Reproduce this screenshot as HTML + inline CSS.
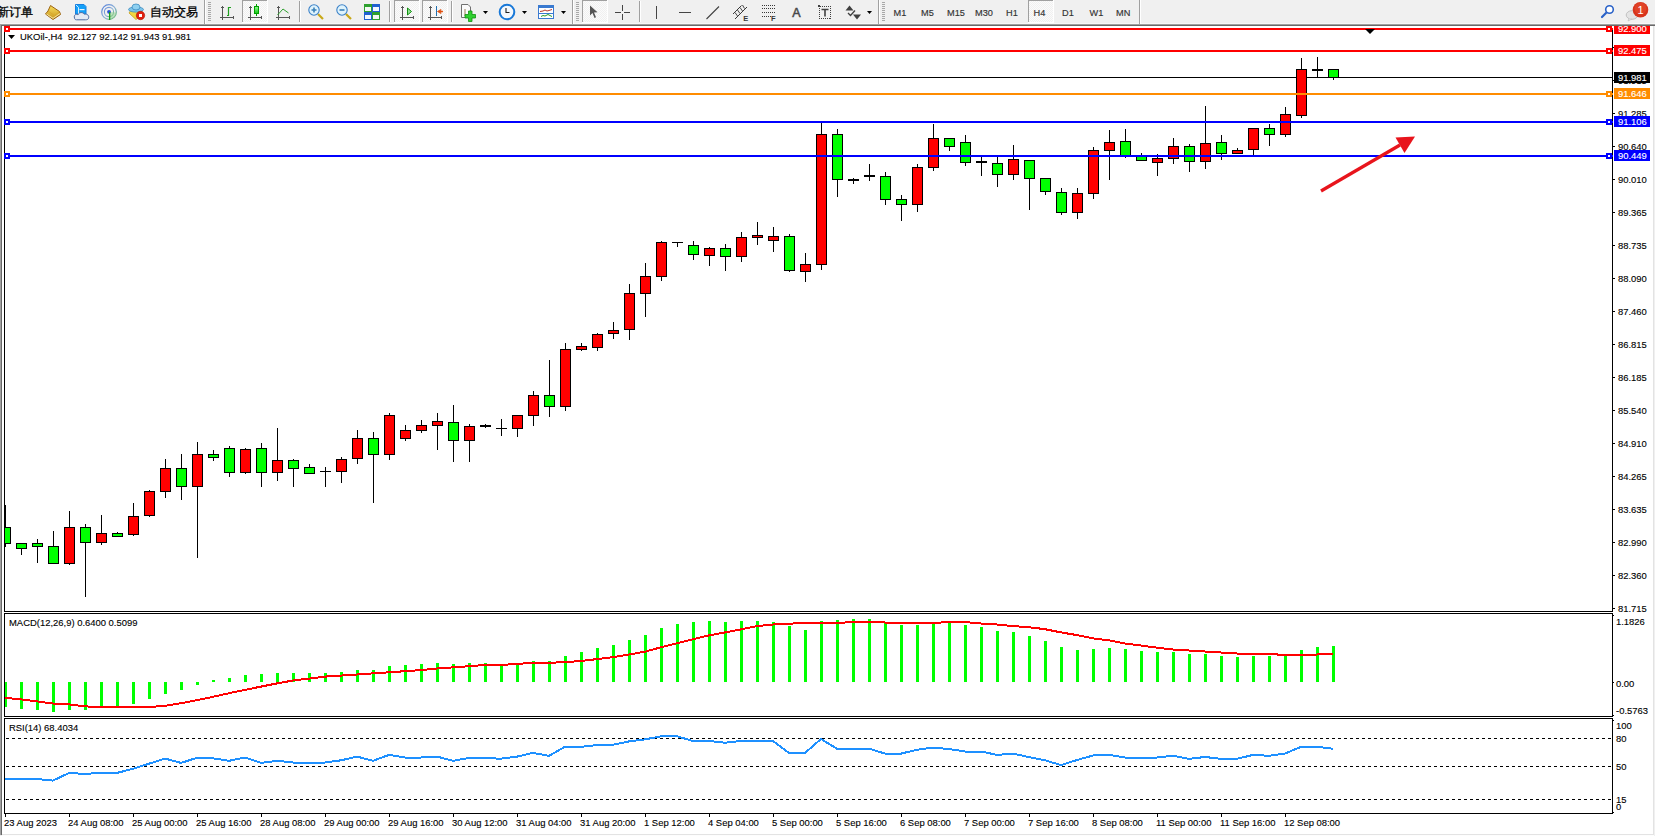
<!DOCTYPE html><html><head><meta charset="utf-8"><title>MT4</title><style>
html,body{margin:0;padding:0;width:1655px;height:836px;overflow:hidden;background:#f0f0f0}
svg{display:block}text{font-family:"Liberation Sans",sans-serif}
.r{shape-rendering:crispEdges}
</style></head><body>
<svg width="1655" height="836" viewBox="0 0 1655 836">
<rect x="0" y="0" width="1655" height="836" fill="#f0f0f0"/>
<g class="r">
<rect x="0" y="23" width="1655" height="1" fill="#f7f7f7"/>
<rect x="0" y="24" width="1655" height="1" fill="#a0a0a0"/>
<rect x="0" y="25" width="1655" height="1" fill="#696969"/>
<rect x="0" y="24" width="1" height="811" fill="#a0a0a0"/>
<rect x="1" y="25" width="1" height="810" fill="#696969"/>
<rect x="2" y="26" width="1652" height="810" fill="#fdfdfd"/>
<rect x="2" y="26" width="1651" height="808" fill="#ffffff"/>
<rect x="1653" y="26" width="1" height="809" fill="#e3e3e3"/>
<rect x="2" y="834" width="1652" height="1" fill="#e3e3e3"/>
</g>
<g id="toolbar">
<defs>
<pattern id="chk" width="2" height="2" patternUnits="userSpaceOnUse"><rect width="2" height="2" fill="#fbfbfb"/><rect width="1" height="1" fill="#f0f0f0"/><rect x="1" y="1" width="1" height="1" fill="#f0f0f0"/></pattern>
<linearGradient id="gold" x1="0" y1="0" x2="0" y2="1"><stop offset="0" stop-color="#f7dc5a"/><stop offset="1" stop-color="#c8961e"/></linearGradient>
<linearGradient id="blueg" x1="0" y1="0" x2="0" y2="1"><stop offset="0" stop-color="#5cc3ff"/><stop offset="1" stop-color="#1576d8"/></linearGradient>
<linearGradient id="greeng" x1="0" y1="0" x2="0" y2="1"><stop offset="0" stop-color="#8cf58c"/><stop offset="1" stop-color="#1bcc1b"/></linearGradient>
</defs>
<!-- text new order -->
<text x="-3" y="16" font-size="12" fill="#000" stroke="#000" stroke-width="0.3">新订单</text>
<!-- gold book -->
<path d="M50.5,5.5 L59.5,11.5 L60.5,14.5 L53,19.5 L45.5,14 L48,11 Z" fill="url(#gold)" stroke="#9c6410" stroke-width="1"/>
<path d="M46.5,14 L53,18.3 L60,13.5" fill="none" stroke="#f4e2a0" stroke-width="1"/>
<path d="M48,11 L54.5,15.5 L59.5,11.5" fill="none" stroke="#d8a428" stroke-width="0.8"/>
<!-- blue cube + cloud -->
<path d="M75.5,4.5 H84 L86,6.5 V14 H75.5 Z" fill="#14a0f8" stroke="#1880e0" stroke-width="1"/>
<path d="M76,5 L78.5,7.5 V14" fill="none" stroke="#e8f6ff" stroke-width="0.9"/>
<rect x="79.5" y="9" width="5" height="1.2" fill="#e8f6ff"/>
<path d="M74.5,18 C73.5,15 76,13.5 78,14.8 C79,12 83,11.8 84.5,14.3 C87,13.5 89.5,15.5 88.5,18.3 C88.2,19.5 87,19.8 85.5,19.8 H76.5 C75.2,19.8 74.6,19 74.5,18 Z" fill="#e4eaf4" stroke="#4e6aa0" stroke-width="1"/>
<!-- radar -->
<defs><linearGradient id="radg" x1="0" y1="0" x2="1" y2="1"><stop offset="0" stop-color="#3a6ad8"/><stop offset="0.55" stop-color="#7aa8d0"/><stop offset="1" stop-color="#2c9a3c"/></linearGradient></defs>
<circle cx="109" cy="12" r="7.3" fill="none" stroke="url(#radg)" stroke-width="1.2" opacity="0.85"/>
<circle cx="109" cy="12" r="4.6" fill="none" stroke="url(#radg)" stroke-width="1.1" opacity="0.8"/>
<path d="M109.5,12 V19.5 A7.5,7.5 0 0 0 116.5,12.5 Z" fill="#9ad49a" opacity="0.6"/>
<circle cx="109" cy="11.8" r="1.9" fill="#2a56d0"/>
<rect x="109" y="12" width="1.3" height="8" fill="#18a018"/>
<!-- auto trading -->
<path d="M129,13 L136,19.5 L143,14 L141,10 L131,10 Z" fill="#f2d640" stroke="#c8a020" stroke-width="0.8"/>
<ellipse cx="136" cy="9.5" rx="7.5" ry="2.6" fill="#7cc4ea" stroke="#3c8cc0" stroke-width="0.8"/>
<ellipse cx="136" cy="7" rx="4" ry="3" fill="#8ed0f0" stroke="#3c8cc0" stroke-width="0.8"/>
<circle cx="140.5" cy="15.5" r="4.2" fill="#e02010" stroke="#b01808" stroke-width="0.6"/>
<rect x="139" y="14" width="3" height="3" fill="#fff"/>
<!-- auto text -->
<text x="150" y="16" font-size="12" fill="#000" stroke="#000" stroke-width="0.3">自动交易</text>
<!-- separator -->
<g shape-rendering="crispEdges">
<rect x="204" y="0" width="1" height="24" fill="#a0a0a0"/><rect x="205" y="0" width="1" height="24" fill="#fff"/>
<rect x="208" y="2" width="3" height="1" fill="#a8a8a8"/><rect x="208" y="4" width="3" height="1" fill="#a8a8a8"/><rect x="208" y="6" width="3" height="1" fill="#a8a8a8"/><rect x="208" y="8" width="3" height="1" fill="#a8a8a8"/><rect x="208" y="10" width="3" height="1" fill="#a8a8a8"/><rect x="208" y="12" width="3" height="1" fill="#a8a8a8"/><rect x="208" y="14" width="3" height="1" fill="#a8a8a8"/><rect x="208" y="16" width="3" height="1" fill="#a8a8a8"/><rect x="208" y="18" width="3" height="1" fill="#a8a8a8"/><rect x="208" y="20" width="3" height="1" fill="#a8a8a8"/>
</g>
<!-- generic axis icon defs -->
<g id="ax1" shape-rendering="crispEdges" fill="#555">
<rect x="222" y="6" width="1" height="14"/><rect x="221" y="7" width="3" height="1"/>
<rect x="220" y="17" width="14" height="1"/><rect x="233" y="16" width="1" height="3"/>
</g>
<path d="M227,15.5 H228.5 V7.5 H231" fill="none" stroke="#20a020" stroke-width="1.2"/>
<!-- pressed candle button -->
<g shape-rendering="crispEdges">
<rect x="242" y="0" width="25" height="22" fill="url(#chk)"/>
<rect x="242" y="0" width="1" height="22" fill="#a0a0a0"/><rect x="242" y="0" width="25" height="1" fill="#a0a0a0"/>
<rect x="267" y="0" width="1" height="23" fill="#fff"/><rect x="242" y="22" width="26" height="1" fill="#fff"/>
<g fill="#555"><rect x="250" y="6" width="1" height="14"/><rect x="249" y="7" width="3" height="1"/><rect x="248" y="17" width="14" height="1"/><rect x="261" y="16" width="1" height="3"/></g>
<rect x="256" y="4" width="1" height="12" fill="#00a000"/>
<rect x="254" y="6" width="5" height="8" fill="#00a000"/><rect x="255" y="7" width="3" height="6" fill="url(#greeng)"/>
</g>
<!-- line chart icon -->
<g shape-rendering="crispEdges" fill="#555"><rect x="278" y="6" width="1" height="14"/><rect x="277" y="7" width="3" height="1"/><rect x="276" y="17" width="14" height="1"/><rect x="289" y="16" width="1" height="3"/></g>
<path d="M277.5,15 L283,9 L288.5,13" fill="none" stroke="#30a030" stroke-width="1"/>
<g shape-rendering="crispEdges"><rect x="299" y="1" width="1" height="21" fill="#a0a0a0"/><rect x="300" y="1" width="1" height="21" fill="#fff"/></g>
<!-- zoom in/out -->
<line x1="318" y1="14" x2="323" y2="19" stroke="#c8a818" stroke-width="2.2"/>
<circle cx="314" cy="10" r="5.2" fill="#dff3fc" stroke="#3a80c8" stroke-width="1.1"/>
<path d="M311.5,10 H316.5 M314,7.5 V12.5" stroke="#3a80b8" stroke-width="1.6"/>
<line x1="346" y1="14" x2="351" y2="19" stroke="#c8a818" stroke-width="2.2"/>
<circle cx="342" cy="10" r="5.2" fill="#dff3fc" stroke="#3a80c8" stroke-width="1.1"/>
<path d="M339.5,10 H344.5" stroke="#3a80b8" stroke-width="1.6"/>
<!-- tile windows -->
<g shape-rendering="crispEdges">
<rect x="364" y="4" width="8" height="8" fill="#2ea02e"/><rect x="372" y="4" width="8" height="8" fill="#2060d0"/>
<rect x="364" y="12" width="8" height="8" fill="#2060d0"/><rect x="372" y="12" width="8" height="8" fill="#2ea02e"/>
<rect x="365" y="7" width="6" height="4" fill="#f4f8f4"/><rect x="373" y="7" width="6" height="4" fill="#f4f8ff"/>
<rect x="365" y="15" width="6" height="4" fill="#f4f8ff"/><rect x="373" y="15" width="6" height="4" fill="#f4f8f4"/>
<rect x="389" y="1" width="1" height="21" fill="#a0a0a0"/><rect x="390" y="1" width="1" height="21" fill="#fff"/>
</g>
<!-- pressed auto-scroll -->
<g shape-rendering="crispEdges">
<rect x="394" y="0" width="25" height="22" fill="url(#chk)"/>
<rect x="394" y="0" width="1" height="22" fill="#a0a0a0"/><rect x="394" y="0" width="25" height="1" fill="#a0a0a0"/>
<rect x="419" y="0" width="1" height="23" fill="#fff"/><rect x="394" y="22" width="26" height="1" fill="#fff"/>
<g fill="#555"><rect x="402" y="6" width="1" height="14"/><rect x="401" y="7" width="3" height="1"/><rect x="400" y="17" width="14" height="1"/><rect x="413" y="16" width="1" height="3"/></g>
</g>
<path d="M407.5,8 L411.5,11.5 L407.5,15 Z" fill="#8fe08f" stroke="#109010" stroke-width="1"/>
<!-- pressed chart shift -->
<g shape-rendering="crispEdges">
<rect x="422" y="0" width="25" height="22" fill="url(#chk)"/>
<rect x="422" y="0" width="1" height="22" fill="#a0a0a0"/><rect x="422" y="0" width="25" height="1" fill="#a0a0a0"/>
<rect x="447" y="0" width="1" height="23" fill="#fff"/><rect x="422" y="22" width="26" height="1" fill="#fff"/>
<g fill="#555"><rect x="430" y="6" width="1" height="14"/><rect x="429" y="7" width="3" height="1"/><rect x="428" y="17" width="14" height="1"/><rect x="441" y="16" width="1" height="3"/></g>
<rect x="436" y="6" width="1" height="10" fill="#2070b0"/>
</g>
<path d="M437.5,11.5 L441,9.5 L440,11 H442.5 V12 H440 L441,13.5 Z" fill="#e05010" stroke="#e05010" stroke-width="0.8"/>
<g shape-rendering="crispEdges"><rect x="451" y="1" width="1" height="21" fill="#a0a0a0"/><rect x="452" y="1" width="1" height="21" fill="#fff"/></g>
<!-- new chart -->
<path d="M461.5,4.5 H468 L470.5,7 V17.5 H461.5 Z" fill="#fafafa" stroke="#707070" stroke-width="1"/>
<path d="M465,9 V16" stroke="#806030" stroke-width="0.8"/>
<path d="M468.5,11 H472 V14.5 H475.5 V18 H472 V21.5 H468.5 V18 H465 V14.5 H468.5 Z" fill="#30d030" stroke="#109010" stroke-width="0.8"/>
<path d="M483,11 H488 L485.5,14 Z" fill="#000"/>
<!-- clock -->
<circle cx="507" cy="12" r="7.3" fill="#f4f8fc" stroke="#1878d8" stroke-width="2"/>
<path d="M506,8 V12.5 H509.5" fill="none" stroke="#202020" stroke-width="1.1"/>
<path d="M522,11 H527 L524.5,14 Z" fill="#000"/>
<!-- indicators -->
<g shape-rendering="crispEdges">
<rect x="538" y="5" width="16" height="14" fill="#3a7ad0"/>
<rect x="539" y="8" width="14" height="5" fill="#fff"/><rect x="539" y="14" width="14" height="4" fill="#fff"/>
</g>
<path d="M540,11.5 L543,11 L545,10 L547,11 L549,10.5 L552,9.5" fill="none" stroke="#b02010" stroke-width="0.9"/>
<path d="M541,16.5 L543,15.5 L545,16 L548,14.5 L552,16.5" fill="none" stroke="#109010" stroke-width="0.9"/>
<path d="M561,11 H566 L563.5,14 Z" fill="#000"/>
<g shape-rendering="crispEdges">
<rect x="572" y="0" width="1" height="24" fill="#a0a0a0"/><rect x="573" y="0" width="1" height="24" fill="#fff"/>
<rect x="576" y="2" width="3" height="1" fill="#a8a8a8"/><rect x="576" y="4" width="3" height="1" fill="#a8a8a8"/><rect x="576" y="6" width="3" height="1" fill="#a8a8a8"/><rect x="576" y="8" width="3" height="1" fill="#a8a8a8"/><rect x="576" y="10" width="3" height="1" fill="#a8a8a8"/><rect x="576" y="12" width="3" height="1" fill="#a8a8a8"/><rect x="576" y="14" width="3" height="1" fill="#a8a8a8"/><rect x="576" y="16" width="3" height="1" fill="#a8a8a8"/><rect x="576" y="18" width="3" height="1" fill="#a8a8a8"/><rect x="576" y="20" width="3" height="1" fill="#a8a8a8"/>
<!-- pressed cursor -->
<rect x="582" y="0" width="25" height="22" fill="url(#chk)"/>
<rect x="582" y="0" width="1" height="22" fill="#a0a0a0"/><rect x="582" y="0" width="25" height="1" fill="#a0a0a0"/>
<rect x="607" y="0" width="1" height="23" fill="#fff"/><rect x="582" y="22" width="26" height="1" fill="#fff"/>
</g>
<path d="M590,5.5 V15.5 L592.5,13 L594.5,18 L596,17.3 L594,12.5 L597.5,12.2 Z" fill="#555"/>
<!-- crosshair -->
<g shape-rendering="crispEdges" fill="#454545">
<rect x="615" y="12" width="6" height="1"/><rect x="624" y="12" width="6" height="1"/>
<rect x="622" y="5" width="1" height="6" /><rect x="622" y="14" width="1" height="6"/>
<rect x="639" y="1" width="1" height="21" fill="#a0a0a0"/><rect x="640" y="1" width="1" height="21" fill="#fff"/>
<rect x="656" y="6" width="1" height="13"/>
<rect x="679" y="12" width="12" height="1"/>
</g>
<line x1="706.5" y1="19" x2="719" y2="6.5" stroke="#404040" stroke-width="1.1"/>
<!-- channel E -->
<path d="M733,14 L741.5,5.5 M735,19 L747,7" stroke="#383838" stroke-width="1" fill="none"/>
<path d="M735,12.5 L737.5,16 M737.5,10 L740,13.5 M740,7.5 L742.5,11 M742.5,5 L744.5,8.5" stroke="#383838" stroke-width="0.9" fill="none"/>
<text x="743.3" y="21" font-size="7.5" font-weight="bold" fill="#383838">E</text>
<!-- fibo F -->
<path d="M762,5.5 H775 M762,8.5 H775 M762,12.5 H775 M762,16.5 H772" stroke="#383838" stroke-width="1" stroke-dasharray="1,1" fill="none"/>
<text x="771" y="21" font-size="7.5" font-weight="bold" fill="#383838">F</text>
<text x="792.3" y="17" font-size="12.5" fill="#484848" stroke="#484848" stroke-width="0.5">A</text>
<!-- T label -->
<rect x="819.5" y="6.5" width="11" height="12" fill="none" stroke="#404040" stroke-width="1" stroke-dasharray="1,1" shape-rendering="crispEdges"/>
<rect x="818" y="5" width="2" height="2" fill="#404040"/>
<path d="M821.5,9.5 H828.5 M825,9.5 V16.5" stroke="#404040" stroke-width="1.6" fill="none"/>
<!-- arrows -->
<path d="M845.5,10.5 L849.5,5.5 L853.5,10.5 Z M853,14.5 L857,19.5 L861,14.5 Z" fill="#404040"/>
<path d="M848,13 L850.5,15.5 L855,10.5" fill="none" stroke="#404040" stroke-width="1.3"/>
<path d="M867,11 H872 L869.5,14 Z" fill="#000"/>
<g shape-rendering="crispEdges">
<rect x="878" y="0" width="1" height="24" fill="#a0a0a0"/><rect x="879" y="0" width="1" height="24" fill="#fff"/>
<rect x="882" y="2" width="3" height="1" fill="#a8a8a8"/><rect x="882" y="4" width="3" height="1" fill="#a8a8a8"/><rect x="882" y="6" width="3" height="1" fill="#a8a8a8"/><rect x="882" y="8" width="3" height="1" fill="#a8a8a8"/><rect x="882" y="10" width="3" height="1" fill="#a8a8a8"/><rect x="882" y="12" width="3" height="1" fill="#a8a8a8"/><rect x="882" y="14" width="3" height="1" fill="#a8a8a8"/><rect x="882" y="16" width="3" height="1" fill="#a8a8a8"/><rect x="882" y="18" width="3" height="1" fill="#a8a8a8"/><rect x="882" y="20" width="3" height="1" fill="#a8a8a8"/>
<!-- H4 pressed -->
<rect x="1028" y="0" width="25" height="22" fill="url(#chk)"/>
<rect x="1028" y="0" width="1" height="22" fill="#a0a0a0"/><rect x="1028" y="0" width="25" height="1" fill="#a0a0a0"/>
<rect x="1053" y="0" width="1" height="23" fill="#fff"/><rect x="1028" y="22" width="26" height="1" fill="#fff"/>
<rect x="1139" y="0" width="1" height="24" fill="#a0a0a0"/><rect x="1140" y="0" width="1" height="24" fill="#fff"/>
</g>
<g font-size="9.2" fill="#333" stroke="#333" stroke-width="0.15">
<text x="893.5" y="16">M1</text>
<text x="921" y="16">M5</text>
<text x="947" y="16">M15</text>
<text x="975" y="16">M30</text>
<text x="1006" y="16">H1</text>
<text x="1033.5" y="16">H4</text>
<text x="1062" y="16">D1</text>
<text x="1089.5" y="16">W1</text>
<text x="1116" y="16">MN</text>
</g>
<!-- search -->
<line x1="1602" y1="17" x2="1606" y2="13" stroke="#2a62c8" stroke-width="2.2" stroke-linecap="round"/>
<circle cx="1609.5" cy="9.5" r="3.8" fill="#fff" stroke="#2a62c8" stroke-width="1.6"/>
<!-- notification -->
<ellipse cx="1632" cy="15" rx="5.8" ry="4.3" fill="#e4e4e4" stroke="#b8b8b8" stroke-width="0.8"/>
<path d="M1629,18.5 L1628,21 L1632,19" fill="#e4e4e4" stroke="#b8b8b8" stroke-width="0.6"/>
<circle cx="1640.5" cy="9.8" r="7.8" fill="#d8341c"/>
<circle cx="1640.5" cy="8.5" r="6" fill="#e85030" opacity="0.5"/>
<text x="1640.5" y="14" font-size="11" fill="#fff" text-anchor="middle">1</text>
</g>

<defs><clipPath id="cm"><rect x="5" y="26" width="1607" height="585"/></clipPath><clipPath id="cmacd"><rect x="5" y="614" width="1607" height="102"/></clipPath><clipPath id="crsi"><rect x="5" y="719" width="1607" height="94"/></clipPath></defs>
<g class="r">
<rect x="4" y="26" width="1" height="586" fill="#000"/>
<rect x="4" y="611" width="1609" height="1" fill="#000"/>
<rect x="1612" y="30" width="1" height="582" fill="#000"/>
<rect x="4" y="613" width="1609" height="1" fill="#000"/>
<rect x="4" y="716" width="1609" height="1" fill="#000"/>
<rect x="4" y="613" width="1" height="104" fill="#000"/>
<rect x="1612" y="613" width="1" height="104" fill="#000"/>
<rect x="4" y="718" width="1609" height="1" fill="#000"/>
<rect x="4" y="813" width="1609" height="1" fill="#000"/>
<rect x="4" y="718" width="1" height="96" fill="#000"/>
<rect x="1612" y="718" width="1" height="96" fill="#000"/>
<rect x="5" y="814" width="1" height="3" fill="#000"/>
<rect x="69" y="814" width="1" height="3" fill="#000"/>
<rect x="133" y="814" width="1" height="3" fill="#000"/>
<rect x="197" y="814" width="1" height="3" fill="#000"/>
<rect x="261" y="814" width="1" height="3" fill="#000"/>
<rect x="325" y="814" width="1" height="3" fill="#000"/>
<rect x="389" y="814" width="1" height="3" fill="#000"/>
<rect x="453" y="814" width="1" height="3" fill="#000"/>
<rect x="517" y="814" width="1" height="3" fill="#000"/>
<rect x="581" y="814" width="1" height="3" fill="#000"/>
<rect x="645" y="814" width="1" height="3" fill="#000"/>
<rect x="709" y="814" width="1" height="3" fill="#000"/>
<rect x="773" y="814" width="1" height="3" fill="#000"/>
<rect x="837" y="814" width="1" height="3" fill="#000"/>
<rect x="901" y="814" width="1" height="3" fill="#000"/>
<rect x="965" y="814" width="1" height="3" fill="#000"/>
<rect x="1029" y="814" width="1" height="3" fill="#000"/>
<rect x="1093" y="814" width="1" height="3" fill="#000"/>
<rect x="1157" y="814" width="1" height="3" fill="#000"/>
<rect x="1221" y="814" width="1" height="3" fill="#000"/>
<rect x="1285" y="814" width="1" height="3" fill="#000"/>
<rect x="1613" y="608" width="2" height="1" fill="#000"/>
<rect x="1613" y="575" width="2" height="1" fill="#000"/>
<rect x="1613" y="542" width="2" height="1" fill="#000"/>
<rect x="1613" y="509" width="2" height="1" fill="#000"/>
<rect x="1613" y="476" width="2" height="1" fill="#000"/>
<rect x="1613" y="443" width="2" height="1" fill="#000"/>
<rect x="1613" y="410" width="2" height="1" fill="#000"/>
<rect x="1613" y="377" width="2" height="1" fill="#000"/>
<rect x="1613" y="344" width="2" height="1" fill="#000"/>
<rect x="1613" y="311" width="2" height="1" fill="#000"/>
<rect x="1613" y="278" width="2" height="1" fill="#000"/>
<rect x="1613" y="245" width="2" height="1" fill="#000"/>
<rect x="1613" y="212" width="2" height="1" fill="#000"/>
<rect x="1613" y="179" width="2" height="1" fill="#000"/>
<rect x="1613" y="146" width="2" height="1" fill="#000"/>
<rect x="1613" y="113" width="2" height="1" fill="#000"/>
<rect x="1613" y="80" width="2" height="1" fill="#000"/>
<rect x="1613" y="47" width="2" height="1" fill="#000"/>
<rect x="1613" y="615" width="1" height="1" fill="#000"/>
<rect x="1613" y="682" width="1" height="1" fill="#000"/>
<rect x="1613" y="715" width="1" height="1" fill="#000"/>
<rect x="1613" y="720" width="1" height="1" fill="#000"/>
<rect x="1613" y="812" width="1" height="1" fill="#000"/>
</g>
<text transform="translate(1618,611.6) scale(0.964,1)" font-size="9.8" fill="#000" stroke="#000" stroke-width="0.12" text-anchor="start">81.715</text>
<text transform="translate(1618,578.6) scale(0.964,1)" font-size="9.8" fill="#000" stroke="#000" stroke-width="0.12" text-anchor="start">82.360</text>
<text transform="translate(1618,545.6) scale(0.964,1)" font-size="9.8" fill="#000" stroke="#000" stroke-width="0.12" text-anchor="start">82.990</text>
<text transform="translate(1618,512.6) scale(0.964,1)" font-size="9.8" fill="#000" stroke="#000" stroke-width="0.12" text-anchor="start">83.635</text>
<text transform="translate(1618,479.6) scale(0.964,1)" font-size="9.8" fill="#000" stroke="#000" stroke-width="0.12" text-anchor="start">84.265</text>
<text transform="translate(1618,446.6) scale(0.964,1)" font-size="9.8" fill="#000" stroke="#000" stroke-width="0.12" text-anchor="start">84.910</text>
<text transform="translate(1618,413.6) scale(0.964,1)" font-size="9.8" fill="#000" stroke="#000" stroke-width="0.12" text-anchor="start">85.540</text>
<text transform="translate(1618,380.6) scale(0.964,1)" font-size="9.8" fill="#000" stroke="#000" stroke-width="0.12" text-anchor="start">86.185</text>
<text transform="translate(1618,347.6) scale(0.964,1)" font-size="9.8" fill="#000" stroke="#000" stroke-width="0.12" text-anchor="start">86.815</text>
<text transform="translate(1618,314.6) scale(0.964,1)" font-size="9.8" fill="#000" stroke="#000" stroke-width="0.12" text-anchor="start">87.460</text>
<text transform="translate(1618,281.6) scale(0.964,1)" font-size="9.8" fill="#000" stroke="#000" stroke-width="0.12" text-anchor="start">88.090</text>
<text transform="translate(1618,248.6) scale(0.964,1)" font-size="9.8" fill="#000" stroke="#000" stroke-width="0.12" text-anchor="start">88.735</text>
<text transform="translate(1618,215.6) scale(0.964,1)" font-size="9.8" fill="#000" stroke="#000" stroke-width="0.12" text-anchor="start">89.365</text>
<text transform="translate(1618,182.6) scale(0.964,1)" font-size="9.8" fill="#000" stroke="#000" stroke-width="0.12" text-anchor="start">90.010</text>
<text transform="translate(1618,149.6) scale(0.964,1)" font-size="9.8" fill="#000" stroke="#000" stroke-width="0.12" text-anchor="start">90.640</text>
<text transform="translate(1618,116.6) scale(0.964,1)" font-size="9.8" fill="#000" stroke="#000" stroke-width="0.12" text-anchor="start">91.285</text>
<text transform="translate(1618,83.6) scale(0.964,1)" font-size="9.8" fill="#000" stroke="#000" stroke-width="0.12" text-anchor="start">91.915</text>
<text transform="translate(1618,50.6) scale(0.964,1)" font-size="9.8" fill="#000" stroke="#000" stroke-width="0.12" text-anchor="start">92.560</text>
<g clip-path="url(#cm)" class="r">
<rect x="5" y="77" width="1607" height="1" fill="#000"/>
<rect x="5" y="505" width="1" height="42" fill="#000"/>
<rect x="0" y="527" width="11" height="17" fill="#000"/>
<rect x="1" y="528" width="9" height="15" fill="#00ff00"/>
<rect x="21" y="543" width="1" height="12" fill="#000"/>
<rect x="16" y="543" width="11" height="6" fill="#000"/>
<rect x="17" y="544" width="9" height="4" fill="#00ff00"/>
<rect x="37" y="539" width="1" height="24" fill="#000"/>
<rect x="32" y="543" width="11" height="4" fill="#000"/>
<rect x="33" y="544" width="9" height="2" fill="#00ff00"/>
<rect x="53" y="531" width="1" height="33" fill="#000"/>
<rect x="48" y="546" width="11" height="18" fill="#000"/>
<rect x="49" y="547" width="9" height="16" fill="#00ff00"/>
<rect x="69" y="511" width="1" height="54" fill="#000"/>
<rect x="64" y="527" width="11" height="37" fill="#000"/>
<rect x="65" y="528" width="9" height="35" fill="#ff0000"/>
<rect x="85" y="524" width="1" height="73" fill="#000"/>
<rect x="80" y="527" width="11" height="16" fill="#000"/>
<rect x="81" y="528" width="9" height="14" fill="#00ff00"/>
<rect x="101" y="515" width="1" height="30" fill="#000"/>
<rect x="96" y="533" width="11" height="10" fill="#000"/>
<rect x="97" y="534" width="9" height="8" fill="#ff0000"/>
<rect x="117" y="532" width="1" height="5" fill="#000"/>
<rect x="112" y="533" width="11" height="4" fill="#000"/>
<rect x="113" y="534" width="9" height="2" fill="#00ff00"/>
<rect x="133" y="503" width="1" height="33" fill="#000"/>
<rect x="128" y="516" width="11" height="19" fill="#000"/>
<rect x="129" y="517" width="9" height="17" fill="#ff0000"/>
<rect x="149" y="490" width="1" height="27" fill="#000"/>
<rect x="144" y="491" width="11" height="25" fill="#000"/>
<rect x="145" y="492" width="9" height="23" fill="#ff0000"/>
<rect x="165" y="459" width="1" height="39" fill="#000"/>
<rect x="160" y="468" width="11" height="24" fill="#000"/>
<rect x="161" y="469" width="9" height="22" fill="#ff0000"/>
<rect x="181" y="454" width="1" height="46" fill="#000"/>
<rect x="176" y="468" width="11" height="19" fill="#000"/>
<rect x="177" y="469" width="9" height="17" fill="#00ff00"/>
<rect x="197" y="442" width="1" height="116" fill="#000"/>
<rect x="192" y="454" width="11" height="33" fill="#000"/>
<rect x="193" y="455" width="9" height="31" fill="#ff0000"/>
<rect x="213" y="450" width="1" height="11" fill="#000"/>
<rect x="208" y="454" width="11" height="4" fill="#000"/>
<rect x="209" y="455" width="9" height="2" fill="#00ff00"/>
<rect x="229" y="446" width="1" height="31" fill="#000"/>
<rect x="224" y="448" width="11" height="25" fill="#000"/>
<rect x="225" y="449" width="9" height="23" fill="#00ff00"/>
<rect x="245" y="448" width="1" height="26" fill="#000"/>
<rect x="240" y="449" width="11" height="24" fill="#000"/>
<rect x="241" y="450" width="9" height="22" fill="#ff0000"/>
<rect x="261" y="443" width="1" height="44" fill="#000"/>
<rect x="256" y="448" width="11" height="25" fill="#000"/>
<rect x="257" y="449" width="9" height="23" fill="#00ff00"/>
<rect x="277" y="428" width="1" height="53" fill="#000"/>
<rect x="272" y="460" width="11" height="13" fill="#000"/>
<rect x="273" y="461" width="9" height="11" fill="#ff0000"/>
<rect x="293" y="459" width="1" height="28" fill="#000"/>
<rect x="288" y="460" width="11" height="9" fill="#000"/>
<rect x="289" y="461" width="9" height="7" fill="#00ff00"/>
<rect x="309" y="464" width="1" height="10" fill="#000"/>
<rect x="304" y="467" width="11" height="7" fill="#000"/>
<rect x="305" y="468" width="9" height="5" fill="#00ff00"/>
<rect x="325" y="467" width="1" height="20" fill="#000"/>
<rect x="320" y="471" width="11" height="1" fill="#000"/>
<rect x="341" y="457" width="1" height="26" fill="#000"/>
<rect x="336" y="459" width="11" height="13" fill="#000"/>
<rect x="337" y="460" width="9" height="11" fill="#ff0000"/>
<rect x="357" y="430" width="1" height="34" fill="#000"/>
<rect x="352" y="438" width="11" height="21" fill="#000"/>
<rect x="353" y="439" width="9" height="19" fill="#ff0000"/>
<rect x="373" y="432" width="1" height="71" fill="#000"/>
<rect x="368" y="438" width="11" height="17" fill="#000"/>
<rect x="369" y="439" width="9" height="15" fill="#00ff00"/>
<rect x="389" y="413" width="1" height="47" fill="#000"/>
<rect x="384" y="415" width="11" height="40" fill="#000"/>
<rect x="385" y="416" width="9" height="38" fill="#ff0000"/>
<rect x="405" y="425" width="1" height="16" fill="#000"/>
<rect x="400" y="430" width="11" height="9" fill="#000"/>
<rect x="401" y="431" width="9" height="7" fill="#ff0000"/>
<rect x="421" y="420" width="1" height="13" fill="#000"/>
<rect x="416" y="425" width="11" height="6" fill="#000"/>
<rect x="417" y="426" width="9" height="4" fill="#ff0000"/>
<rect x="437" y="413" width="1" height="37" fill="#000"/>
<rect x="432" y="421" width="11" height="5" fill="#000"/>
<rect x="433" y="422" width="9" height="3" fill="#ff0000"/>
<rect x="453" y="405" width="1" height="57" fill="#000"/>
<rect x="448" y="422" width="11" height="19" fill="#000"/>
<rect x="449" y="423" width="9" height="17" fill="#00ff00"/>
<rect x="469" y="424" width="1" height="38" fill="#000"/>
<rect x="464" y="426" width="11" height="15" fill="#000"/>
<rect x="465" y="427" width="9" height="13" fill="#ff0000"/>
<rect x="485" y="424" width="1" height="4" fill="#000"/>
<rect x="480" y="425" width="11" height="2" fill="#000"/>
<rect x="501" y="419" width="1" height="17" fill="#000"/>
<rect x="496" y="428" width="11" height="1" fill="#000"/>
<rect x="517" y="415" width="1" height="22" fill="#000"/>
<rect x="512" y="415" width="11" height="14" fill="#000"/>
<rect x="513" y="416" width="9" height="12" fill="#ff0000"/>
<rect x="533" y="391" width="1" height="35" fill="#000"/>
<rect x="528" y="395" width="11" height="21" fill="#000"/>
<rect x="529" y="396" width="9" height="19" fill="#ff0000"/>
<rect x="549" y="360" width="1" height="57" fill="#000"/>
<rect x="544" y="395" width="11" height="12" fill="#000"/>
<rect x="545" y="396" width="9" height="10" fill="#00ff00"/>
<rect x="565" y="343" width="1" height="68" fill="#000"/>
<rect x="560" y="349" width="11" height="58" fill="#000"/>
<rect x="561" y="350" width="9" height="56" fill="#ff0000"/>
<rect x="581" y="343" width="1" height="8" fill="#000"/>
<rect x="576" y="346" width="11" height="4" fill="#000"/>
<rect x="577" y="347" width="9" height="2" fill="#ff0000"/>
<rect x="597" y="333" width="1" height="18" fill="#000"/>
<rect x="592" y="334" width="11" height="14" fill="#000"/>
<rect x="593" y="335" width="9" height="12" fill="#ff0000"/>
<rect x="613" y="322" width="1" height="17" fill="#000"/>
<rect x="608" y="330" width="11" height="4" fill="#000"/>
<rect x="609" y="331" width="9" height="2" fill="#ff0000"/>
<rect x="629" y="284" width="1" height="56" fill="#000"/>
<rect x="624" y="293" width="11" height="37" fill="#000"/>
<rect x="625" y="294" width="9" height="35" fill="#ff0000"/>
<rect x="645" y="263" width="1" height="54" fill="#000"/>
<rect x="640" y="276" width="11" height="18" fill="#000"/>
<rect x="641" y="277" width="9" height="16" fill="#ff0000"/>
<rect x="661" y="241" width="1" height="40" fill="#000"/>
<rect x="656" y="242" width="11" height="35" fill="#000"/>
<rect x="657" y="243" width="9" height="33" fill="#ff0000"/>
<rect x="677" y="242" width="1" height="5" fill="#000"/>
<rect x="672" y="242" width="11" height="1" fill="#000"/>
<rect x="693" y="241" width="1" height="19" fill="#000"/>
<rect x="688" y="245" width="11" height="10" fill="#000"/>
<rect x="689" y="246" width="9" height="8" fill="#00ff00"/>
<rect x="709" y="247" width="1" height="19" fill="#000"/>
<rect x="704" y="248" width="11" height="8" fill="#000"/>
<rect x="705" y="249" width="9" height="6" fill="#ff0000"/>
<rect x="725" y="244" width="1" height="27" fill="#000"/>
<rect x="720" y="248" width="11" height="9" fill="#000"/>
<rect x="721" y="249" width="9" height="7" fill="#00ff00"/>
<rect x="741" y="232" width="1" height="30" fill="#000"/>
<rect x="736" y="237" width="11" height="20" fill="#000"/>
<rect x="737" y="238" width="9" height="18" fill="#ff0000"/>
<rect x="757" y="222" width="1" height="23" fill="#000"/>
<rect x="752" y="235" width="11" height="3" fill="#000"/>
<rect x="753" y="236" width="9" height="1" fill="#ff0000"/>
<rect x="773" y="227" width="1" height="25" fill="#000"/>
<rect x="768" y="236" width="11" height="5" fill="#000"/>
<rect x="769" y="237" width="9" height="3" fill="#ff0000"/>
<rect x="789" y="234" width="1" height="38" fill="#000"/>
<rect x="784" y="236" width="11" height="35" fill="#000"/>
<rect x="785" y="237" width="9" height="33" fill="#00ff00"/>
<rect x="805" y="253" width="1" height="29" fill="#000"/>
<rect x="800" y="264" width="11" height="8" fill="#000"/>
<rect x="801" y="265" width="9" height="6" fill="#ff0000"/>
<rect x="821" y="123" width="1" height="147" fill="#000"/>
<rect x="816" y="134" width="11" height="131" fill="#000"/>
<rect x="817" y="135" width="9" height="129" fill="#ff0000"/>
<rect x="837" y="129" width="1" height="68" fill="#000"/>
<rect x="832" y="134" width="11" height="46" fill="#000"/>
<rect x="833" y="135" width="9" height="44" fill="#00ff00"/>
<rect x="853" y="178" width="1" height="6" fill="#000"/>
<rect x="848" y="179" width="11" height="2" fill="#000"/>
<rect x="869" y="164" width="1" height="17" fill="#000"/>
<rect x="864" y="175" width="11" height="2" fill="#000"/>
<rect x="885" y="172" width="1" height="33" fill="#000"/>
<rect x="880" y="176" width="11" height="24" fill="#000"/>
<rect x="881" y="177" width="9" height="22" fill="#00ff00"/>
<rect x="901" y="195" width="1" height="26" fill="#000"/>
<rect x="896" y="199" width="11" height="6" fill="#000"/>
<rect x="897" y="200" width="9" height="4" fill="#00ff00"/>
<rect x="917" y="164" width="1" height="48" fill="#000"/>
<rect x="912" y="167" width="11" height="38" fill="#000"/>
<rect x="913" y="168" width="9" height="36" fill="#ff0000"/>
<rect x="933" y="124" width="1" height="47" fill="#000"/>
<rect x="928" y="138" width="11" height="30" fill="#000"/>
<rect x="929" y="139" width="9" height="28" fill="#ff0000"/>
<rect x="949" y="138" width="1" height="13" fill="#000"/>
<rect x="944" y="138" width="11" height="9" fill="#000"/>
<rect x="945" y="139" width="9" height="7" fill="#00ff00"/>
<rect x="965" y="135" width="1" height="31" fill="#000"/>
<rect x="960" y="142" width="11" height="21" fill="#000"/>
<rect x="961" y="143" width="9" height="19" fill="#00ff00"/>
<rect x="981" y="157" width="1" height="19" fill="#000"/>
<rect x="976" y="161" width="11" height="2" fill="#000"/>
<rect x="997" y="157" width="1" height="30" fill="#000"/>
<rect x="992" y="163" width="11" height="12" fill="#000"/>
<rect x="993" y="164" width="9" height="10" fill="#00ff00"/>
<rect x="1013" y="145" width="1" height="35" fill="#000"/>
<rect x="1008" y="159" width="11" height="16" fill="#000"/>
<rect x="1009" y="160" width="9" height="14" fill="#ff0000"/>
<rect x="1029" y="160" width="1" height="50" fill="#000"/>
<rect x="1024" y="160" width="11" height="19" fill="#000"/>
<rect x="1025" y="161" width="9" height="17" fill="#00ff00"/>
<rect x="1045" y="178" width="1" height="17" fill="#000"/>
<rect x="1040" y="178" width="11" height="14" fill="#000"/>
<rect x="1041" y="179" width="9" height="12" fill="#00ff00"/>
<rect x="1061" y="188" width="1" height="27" fill="#000"/>
<rect x="1056" y="192" width="11" height="21" fill="#000"/>
<rect x="1057" y="193" width="9" height="19" fill="#00ff00"/>
<rect x="1077" y="188" width="1" height="31" fill="#000"/>
<rect x="1072" y="193" width="11" height="20" fill="#000"/>
<rect x="1073" y="194" width="9" height="18" fill="#ff0000"/>
<rect x="1093" y="147" width="1" height="52" fill="#000"/>
<rect x="1088" y="150" width="11" height="44" fill="#000"/>
<rect x="1089" y="151" width="9" height="42" fill="#ff0000"/>
<rect x="1109" y="130" width="1" height="50" fill="#000"/>
<rect x="1104" y="142" width="11" height="9" fill="#000"/>
<rect x="1105" y="143" width="9" height="7" fill="#ff0000"/>
<rect x="1125" y="129" width="1" height="29" fill="#000"/>
<rect x="1120" y="141" width="11" height="16" fill="#000"/>
<rect x="1121" y="142" width="9" height="14" fill="#00ff00"/>
<rect x="1141" y="153" width="1" height="8" fill="#000"/>
<rect x="1136" y="156" width="11" height="5" fill="#000"/>
<rect x="1137" y="157" width="9" height="3" fill="#00ff00"/>
<rect x="1157" y="154" width="1" height="22" fill="#000"/>
<rect x="1152" y="158" width="11" height="5" fill="#000"/>
<rect x="1153" y="159" width="9" height="3" fill="#ff0000"/>
<rect x="1173" y="138" width="1" height="26" fill="#000"/>
<rect x="1168" y="146" width="11" height="13" fill="#000"/>
<rect x="1169" y="147" width="9" height="11" fill="#ff0000"/>
<rect x="1189" y="144" width="1" height="28" fill="#000"/>
<rect x="1184" y="146" width="11" height="16" fill="#000"/>
<rect x="1185" y="147" width="9" height="14" fill="#00ff00"/>
<rect x="1205" y="106" width="1" height="63" fill="#000"/>
<rect x="1200" y="143" width="11" height="19" fill="#000"/>
<rect x="1201" y="144" width="9" height="17" fill="#ff0000"/>
<rect x="1221" y="135" width="1" height="25" fill="#000"/>
<rect x="1216" y="142" width="11" height="12" fill="#000"/>
<rect x="1217" y="143" width="9" height="10" fill="#00ff00"/>
<rect x="1237" y="148" width="1" height="6" fill="#000"/>
<rect x="1232" y="150" width="11" height="4" fill="#000"/>
<rect x="1233" y="151" width="9" height="2" fill="#ff0000"/>
<rect x="1253" y="128" width="1" height="27" fill="#000"/>
<rect x="1248" y="128" width="11" height="22" fill="#000"/>
<rect x="1249" y="129" width="9" height="20" fill="#ff0000"/>
<rect x="1269" y="124" width="1" height="22" fill="#000"/>
<rect x="1264" y="128" width="11" height="7" fill="#000"/>
<rect x="1265" y="129" width="9" height="5" fill="#00ff00"/>
<rect x="1285" y="107" width="1" height="30" fill="#000"/>
<rect x="1280" y="114" width="11" height="21" fill="#000"/>
<rect x="1281" y="115" width="9" height="19" fill="#ff0000"/>
<rect x="1301" y="58" width="1" height="60" fill="#000"/>
<rect x="1296" y="69" width="11" height="47" fill="#000"/>
<rect x="1297" y="70" width="9" height="45" fill="#ff0000"/>
<rect x="1317" y="57" width="1" height="20" fill="#000"/>
<rect x="1312" y="69" width="11" height="2" fill="#000"/>
<rect x="1333" y="69" width="1" height="11" fill="#000"/>
<rect x="1328" y="69" width="11" height="9" fill="#000"/>
<rect x="1329" y="70" width="9" height="7" fill="#00ff00"/>
</g>
<g class="r">
<rect x="4" y="28" width="1609" height="2" fill="#ff0000"/>
<rect x="4" y="26" width="6" height="6" fill="#ff0000"/>
<rect x="6" y="28" width="2" height="2" fill="#fff"/>
<rect x="1606" y="26" width="6" height="6" fill="#ff0000"/>
<rect x="1608" y="28" width="2" height="2" fill="#fff"/>
<rect x="4" y="50" width="1609" height="2" fill="#ff0000"/>
<rect x="4" y="48" width="6" height="6" fill="#ff0000"/>
<rect x="6" y="50" width="2" height="2" fill="#fff"/>
<rect x="1606" y="48" width="6" height="6" fill="#ff0000"/>
<rect x="1608" y="50" width="2" height="2" fill="#fff"/>
<rect x="4" y="93" width="1609" height="2" fill="#ff8c00"/>
<rect x="4" y="91" width="6" height="6" fill="#ff8c00"/>
<rect x="6" y="93" width="2" height="2" fill="#fff"/>
<rect x="1606" y="91" width="6" height="6" fill="#ff8c00"/>
<rect x="1608" y="93" width="2" height="2" fill="#fff"/>
<rect x="4" y="121" width="1609" height="2" fill="#0000ff"/>
<rect x="4" y="119" width="6" height="6" fill="#0000ff"/>
<rect x="6" y="121" width="2" height="2" fill="#fff"/>
<rect x="1606" y="119" width="6" height="6" fill="#0000ff"/>
<rect x="1608" y="121" width="2" height="2" fill="#fff"/>
<rect x="4" y="155" width="1609" height="2" fill="#0000ff"/>
<rect x="4" y="153" width="6" height="6" fill="#0000ff"/>
<rect x="6" y="155" width="2" height="2" fill="#fff"/>
<rect x="1606" y="153" width="6" height="6" fill="#0000ff"/>
<rect x="1608" y="155" width="2" height="2" fill="#fff"/>
</g>
<g class="r">
<rect x="1614" y="26" width="36" height="8" fill="#ff0000"/>
<rect x="1614" y="45" width="36" height="11" fill="#ff0000"/>
<rect x="1614" y="88" width="36" height="11" fill="#ff8c00"/>
<rect x="1614" y="116" width="36" height="11" fill="#0000ff"/>
<rect x="1614" y="150" width="36" height="11" fill="#0000ff"/>
<rect x="1614" y="72" width="36" height="11" fill="#000"/>
</g>
<text transform="translate(1618,32) scale(0.964,1)" font-size="9.8" fill="#fff" stroke="#fff" stroke-width="0.12" text-anchor="start">92.900</text>
<text transform="translate(1618,54) scale(0.964,1)" font-size="9.8" fill="#fff" stroke="#fff" stroke-width="0.12" text-anchor="start">92.475</text>
<text transform="translate(1618,97) scale(0.964,1)" font-size="9.8" fill="#fff" stroke="#fff" stroke-width="0.12" text-anchor="start">91.646</text>
<text transform="translate(1618,125) scale(0.964,1)" font-size="9.8" fill="#fff" stroke="#fff" stroke-width="0.12" text-anchor="start">91.106</text>
<text transform="translate(1618,159) scale(0.964,1)" font-size="9.8" fill="#fff" stroke="#fff" stroke-width="0.12" text-anchor="start">90.449</text>
<text transform="translate(1618,81) scale(0.964,1)" font-size="9.8" fill="#fff" stroke="#fff" stroke-width="0.12" text-anchor="start">91.981</text>
<polygon points="1365,29 1375,29 1370,34" fill="#000"/>
<line x1="1321" y1="191" x2="1400" y2="145" stroke="#e8141c" stroke-width="3.2"/>
<polygon points="1395.5,137.5 1415,136.5 1404.5,153" fill="#e8141c"/>
<polygon points="8,35 15,35 11.5,39" fill="#000"/>
<text transform="translate(20,40) scale(0.964,1)" font-size="9.8" fill="#000" stroke="#000" stroke-width="0.12" text-anchor="start">UKOil-,H4&#160;&#160;92.127 92.142 91.943 91.981</text>
<g clip-path="url(#cmacd)" class="r">
<rect x="4" y="682" width="3" height="25" fill="#00ff00"/>
<rect x="20" y="682" width="3" height="27" fill="#00ff00"/>
<rect x="36" y="682" width="3" height="28" fill="#00ff00"/>
<rect x="52" y="682" width="3" height="30" fill="#00ff00"/>
<rect x="68" y="682" width="3" height="28" fill="#00ff00"/>
<rect x="84" y="682" width="3" height="28" fill="#00ff00"/>
<rect x="100" y="682" width="3" height="24" fill="#00ff00"/>
<rect x="116" y="682" width="3" height="24" fill="#00ff00"/>
<rect x="132" y="682" width="3" height="22" fill="#00ff00"/>
<rect x="148" y="682" width="3" height="17" fill="#00ff00"/>
<rect x="164" y="682" width="3" height="12" fill="#00ff00"/>
<rect x="180" y="682" width="3" height="8" fill="#00ff00"/>
<rect x="196" y="682" width="3" height="3" fill="#00ff00"/>
<rect x="212" y="680" width="3" height="2" fill="#00ff00"/>
<rect x="228" y="678" width="3" height="4" fill="#00ff00"/>
<rect x="244" y="675" width="3" height="7" fill="#00ff00"/>
<rect x="260" y="674" width="3" height="8" fill="#00ff00"/>
<rect x="276" y="673" width="3" height="9" fill="#00ff00"/>
<rect x="292" y="673" width="3" height="9" fill="#00ff00"/>
<rect x="308" y="673" width="3" height="9" fill="#00ff00"/>
<rect x="324" y="673" width="3" height="9" fill="#00ff00"/>
<rect x="340" y="672" width="3" height="10" fill="#00ff00"/>
<rect x="356" y="670" width="3" height="12" fill="#00ff00"/>
<rect x="372" y="670" width="3" height="12" fill="#00ff00"/>
<rect x="388" y="666" width="3" height="16" fill="#00ff00"/>
<rect x="404" y="665" width="3" height="17" fill="#00ff00"/>
<rect x="420" y="664" width="3" height="18" fill="#00ff00"/>
<rect x="436" y="663" width="3" height="19" fill="#00ff00"/>
<rect x="452" y="664" width="3" height="18" fill="#00ff00"/>
<rect x="468" y="663" width="3" height="19" fill="#00ff00"/>
<rect x="484" y="663" width="3" height="19" fill="#00ff00"/>
<rect x="500" y="665" width="3" height="17" fill="#00ff00"/>
<rect x="516" y="663" width="3" height="19" fill="#00ff00"/>
<rect x="532" y="661" width="3" height="21" fill="#00ff00"/>
<rect x="548" y="661" width="3" height="21" fill="#00ff00"/>
<rect x="564" y="656" width="3" height="26" fill="#00ff00"/>
<rect x="580" y="652" width="3" height="30" fill="#00ff00"/>
<rect x="596" y="648" width="3" height="34" fill="#00ff00"/>
<rect x="612" y="645" width="3" height="37" fill="#00ff00"/>
<rect x="628" y="640" width="3" height="42" fill="#00ff00"/>
<rect x="644" y="635" width="3" height="47" fill="#00ff00"/>
<rect x="660" y="628" width="3" height="54" fill="#00ff00"/>
<rect x="676" y="624" width="3" height="58" fill="#00ff00"/>
<rect x="692" y="622" width="3" height="60" fill="#00ff00"/>
<rect x="708" y="621" width="3" height="61" fill="#00ff00"/>
<rect x="724" y="622" width="3" height="60" fill="#00ff00"/>
<rect x="740" y="621" width="3" height="61" fill="#00ff00"/>
<rect x="756" y="621" width="3" height="61" fill="#00ff00"/>
<rect x="772" y="622" width="3" height="60" fill="#00ff00"/>
<rect x="788" y="626" width="3" height="56" fill="#00ff00"/>
<rect x="804" y="630" width="3" height="52" fill="#00ff00"/>
<rect x="820" y="621" width="3" height="61" fill="#00ff00"/>
<rect x="836" y="620" width="3" height="62" fill="#00ff00"/>
<rect x="852" y="619" width="3" height="63" fill="#00ff00"/>
<rect x="868" y="619" width="3" height="63" fill="#00ff00"/>
<rect x="884" y="622" width="3" height="60" fill="#00ff00"/>
<rect x="900" y="625" width="3" height="57" fill="#00ff00"/>
<rect x="916" y="625" width="3" height="57" fill="#00ff00"/>
<rect x="932" y="623" width="3" height="59" fill="#00ff00"/>
<rect x="948" y="623" width="3" height="59" fill="#00ff00"/>
<rect x="964" y="625" width="3" height="57" fill="#00ff00"/>
<rect x="980" y="627" width="3" height="55" fill="#00ff00"/>
<rect x="996" y="631" width="3" height="51" fill="#00ff00"/>
<rect x="1012" y="632" width="3" height="50" fill="#00ff00"/>
<rect x="1028" y="636" width="3" height="46" fill="#00ff00"/>
<rect x="1044" y="641" width="3" height="41" fill="#00ff00"/>
<rect x="1060" y="647" width="3" height="35" fill="#00ff00"/>
<rect x="1076" y="650" width="3" height="32" fill="#00ff00"/>
<rect x="1092" y="649" width="3" height="33" fill="#00ff00"/>
<rect x="1108" y="648" width="3" height="34" fill="#00ff00"/>
<rect x="1124" y="649" width="3" height="33" fill="#00ff00"/>
<rect x="1140" y="651" width="3" height="31" fill="#00ff00"/>
<rect x="1156" y="652" width="3" height="30" fill="#00ff00"/>
<rect x="1172" y="652" width="3" height="30" fill="#00ff00"/>
<rect x="1188" y="654" width="3" height="28" fill="#00ff00"/>
<rect x="1204" y="654" width="3" height="28" fill="#00ff00"/>
<rect x="1220" y="656" width="3" height="26" fill="#00ff00"/>
<rect x="1236" y="657" width="3" height="25" fill="#00ff00"/>
<rect x="1252" y="656" width="3" height="26" fill="#00ff00"/>
<rect x="1268" y="656" width="3" height="26" fill="#00ff00"/>
<rect x="1284" y="656" width="3" height="26" fill="#00ff00"/>
<rect x="1300" y="650" width="3" height="32" fill="#00ff00"/>
<rect x="1316" y="647" width="3" height="35" fill="#00ff00"/>
<rect x="1332" y="646" width="3" height="36" fill="#00ff00"/>
</g>
<g clip-path="url(#cmacd)"><polyline points="5,697.8 21,699.4 37,701.4 53,703.5 69,704.4 85,706.4 101,707.0 117,707.0 133,707.0 149,707.0 165,705.9 181,703.2 197,700.2 213,696.8 229,693.2 245,689.9 261,686.6 277,683.4 293,680.5 309,678.6 325,676.6 341,675.6 357,674.5 373,673.4 389,672.3 405,671.2 421,670.1 437,668.5 453,667.4 469,666.2 485,665.0 501,665.0 517,663.9 533,662.8 549,662.8 565,662.1 581,661.0 597,659.1 613,657.2 629,654.5 645,651.7 661,647.3 677,643.2 693,639.2 709,635.4 725,632.4 741,629.4 757,626.1 773,624.5 789,623.7 805,622.9 821,623.0 837,623.0 853,622.0 869,622.0 885,622.5 901,623.0 917,623.0 933,623.0 949,622.0 965,622.0 981,623.5 997,624.5 1013,626.1 1029,627.2 1045,629.2 1061,632.4 1077,635.1 1093,638.4 1109,640.3 1125,643.5 1141,645.5 1157,647.7 1173,649.5 1189,650.5 1205,651.5 1221,652.5 1237,653.5 1253,654.0 1269,654.3 1285,654.7 1301,655.0 1317,654.5 1333,654.0" fill="none" stroke="#ff0000" stroke-width="2" shape-rendering="crispEdges"/></g>
<text transform="translate(9,626) scale(0.964,1)" font-size="9.8" fill="#000" stroke="#000" stroke-width="0.12" text-anchor="start">MACD(12,26,9) 0.6400 0.5099</text>
<text transform="translate(1616,624.5) scale(0.964,1)" font-size="9.8" fill="#000" stroke="#000" stroke-width="0.12" text-anchor="start">1.1826</text>
<text transform="translate(1616,686.5) scale(0.964,1)" font-size="9.8" fill="#000" stroke="#000" stroke-width="0.12" text-anchor="start">0.00</text>
<text transform="translate(1616,713.5) scale(0.964,1)" font-size="9.8" fill="#000" stroke="#000" stroke-width="0.12" text-anchor="start">-0.5763</text>
<g class="r">
<line x1="6" y1="738.5" x2="1612" y2="738.5" stroke="#000" stroke-width="1" stroke-dasharray="3,3"/>
<line x1="6" y1="766.5" x2="1612" y2="766.5" stroke="#000" stroke-width="1" stroke-dasharray="3,3"/>
<line x1="6" y1="799.5" x2="1612" y2="799.5" stroke="#000" stroke-width="1" stroke-dasharray="3,3"/>
</g>
<g clip-path="url(#crsi)"><polyline points="5,779.0 21,779.0 37,779.0 53,780.6 69,773.0 85,773.9 101,772.9 117,772.9 133,768.8 149,763.7 165,758.6 181,762.9 197,757.8 213,758.3 229,760.8 245,757.5 261,762.9 277,760.8 293,762.5 309,762.5 325,762.5 341,760.3 357,756.6 373,760.8 389,754.9 405,757.5 421,757.5 437,756.6 453,760.8 469,758.0 485,758.3 501,758.6 517,756.6 533,752.9 549,755.8 565,746.8 581,746.8 597,745.1 613,744.8 629,741.4 645,739.4 661,736.3 677,736.3 693,741.0 709,741.0 725,742.7 741,741.0 757,741.0 773,741.0 789,752.9 805,752.9 821,739.0 837,748.7 853,748.7 869,748.7 885,753.6 901,753.6 917,749.8 933,747.6 949,749.0 965,751.5 981,751.5 997,754.9 1013,753.6 1029,757.1 1045,760.3 1061,765.1 1077,760.0 1093,755.5 1109,754.9 1125,757.5 1141,757.5 1157,757.5 1173,755.8 1189,758.8 1205,757.0 1221,758.8 1237,758.8 1253,754.9 1269,755.8 1285,753.6 1301,746.8 1317,746.8 1333,748.7" fill="none" stroke="#1e90ff" stroke-width="2" shape-rendering="crispEdges"/></g>
<text transform="translate(9,731) scale(0.964,1)" font-size="9.8" fill="#000" stroke="#000" stroke-width="0.12" text-anchor="start">RSI(14) 68.4034</text>
<text transform="translate(1616,729) scale(0.964,1)" font-size="9.8" fill="#000" stroke="#000" stroke-width="0.12" text-anchor="start">100</text>
<text transform="translate(1616,742) scale(0.964,1)" font-size="9.8" fill="#000" stroke="#000" stroke-width="0.12" text-anchor="start">80</text>
<text transform="translate(1616,770) scale(0.964,1)" font-size="9.8" fill="#000" stroke="#000" stroke-width="0.12" text-anchor="start">50</text>
<text transform="translate(1616,803) scale(0.964,1)" font-size="9.8" fill="#000" stroke="#000" stroke-width="0.12" text-anchor="start">15</text>
<text transform="translate(1616,810) scale(0.964,1)" font-size="9.8" fill="#000" stroke="#000" stroke-width="0.12" text-anchor="start">0</text>
<text transform="translate(4,825.6) scale(0.964,1)" font-size="9.8" fill="#000" stroke="#000" stroke-width="0.12" text-anchor="start">23 Aug 2023</text>
<text transform="translate(68,825.6) scale(0.964,1)" font-size="9.8" fill="#000" stroke="#000" stroke-width="0.12" text-anchor="start">24 Aug 08:00</text>
<text transform="translate(132,825.6) scale(0.964,1)" font-size="9.8" fill="#000" stroke="#000" stroke-width="0.12" text-anchor="start">25 Aug 00:00</text>
<text transform="translate(196,825.6) scale(0.964,1)" font-size="9.8" fill="#000" stroke="#000" stroke-width="0.12" text-anchor="start">25 Aug 16:00</text>
<text transform="translate(260,825.6) scale(0.964,1)" font-size="9.8" fill="#000" stroke="#000" stroke-width="0.12" text-anchor="start">28 Aug 08:00</text>
<text transform="translate(324,825.6) scale(0.964,1)" font-size="9.8" fill="#000" stroke="#000" stroke-width="0.12" text-anchor="start">29 Aug 00:00</text>
<text transform="translate(388,825.6) scale(0.964,1)" font-size="9.8" fill="#000" stroke="#000" stroke-width="0.12" text-anchor="start">29 Aug 16:00</text>
<text transform="translate(452,825.6) scale(0.964,1)" font-size="9.8" fill="#000" stroke="#000" stroke-width="0.12" text-anchor="start">30 Aug 12:00</text>
<text transform="translate(516,825.6) scale(0.964,1)" font-size="9.8" fill="#000" stroke="#000" stroke-width="0.12" text-anchor="start">31 Aug 04:00</text>
<text transform="translate(580,825.6) scale(0.964,1)" font-size="9.8" fill="#000" stroke="#000" stroke-width="0.12" text-anchor="start">31 Aug 20:00</text>
<text transform="translate(644,825.6) scale(0.964,1)" font-size="9.8" fill="#000" stroke="#000" stroke-width="0.12" text-anchor="start">1 Sep 12:00</text>
<text transform="translate(708,825.6) scale(0.964,1)" font-size="9.8" fill="#000" stroke="#000" stroke-width="0.12" text-anchor="start">4 Sep 04:00</text>
<text transform="translate(772,825.6) scale(0.964,1)" font-size="9.8" fill="#000" stroke="#000" stroke-width="0.12" text-anchor="start">5 Sep 00:00</text>
<text transform="translate(836,825.6) scale(0.964,1)" font-size="9.8" fill="#000" stroke="#000" stroke-width="0.12" text-anchor="start">5 Sep 16:00</text>
<text transform="translate(900,825.6) scale(0.964,1)" font-size="9.8" fill="#000" stroke="#000" stroke-width="0.12" text-anchor="start">6 Sep 08:00</text>
<text transform="translate(964,825.6) scale(0.964,1)" font-size="9.8" fill="#000" stroke="#000" stroke-width="0.12" text-anchor="start">7 Sep 00:00</text>
<text transform="translate(1028,825.6) scale(0.964,1)" font-size="9.8" fill="#000" stroke="#000" stroke-width="0.12" text-anchor="start">7 Sep 16:00</text>
<text transform="translate(1092,825.6) scale(0.964,1)" font-size="9.8" fill="#000" stroke="#000" stroke-width="0.12" text-anchor="start">8 Sep 08:00</text>
<text transform="translate(1156,825.6) scale(0.964,1)" font-size="9.8" fill="#000" stroke="#000" stroke-width="0.12" text-anchor="start">11 Sep 00:00</text>
<text transform="translate(1220,825.6) scale(0.964,1)" font-size="9.8" fill="#000" stroke="#000" stroke-width="0.12" text-anchor="start">11 Sep 16:00</text>
<text transform="translate(1284,825.6) scale(0.964,1)" font-size="9.8" fill="#000" stroke="#000" stroke-width="0.12" text-anchor="start">12 Sep 08:00</text>
</svg></body></html>
